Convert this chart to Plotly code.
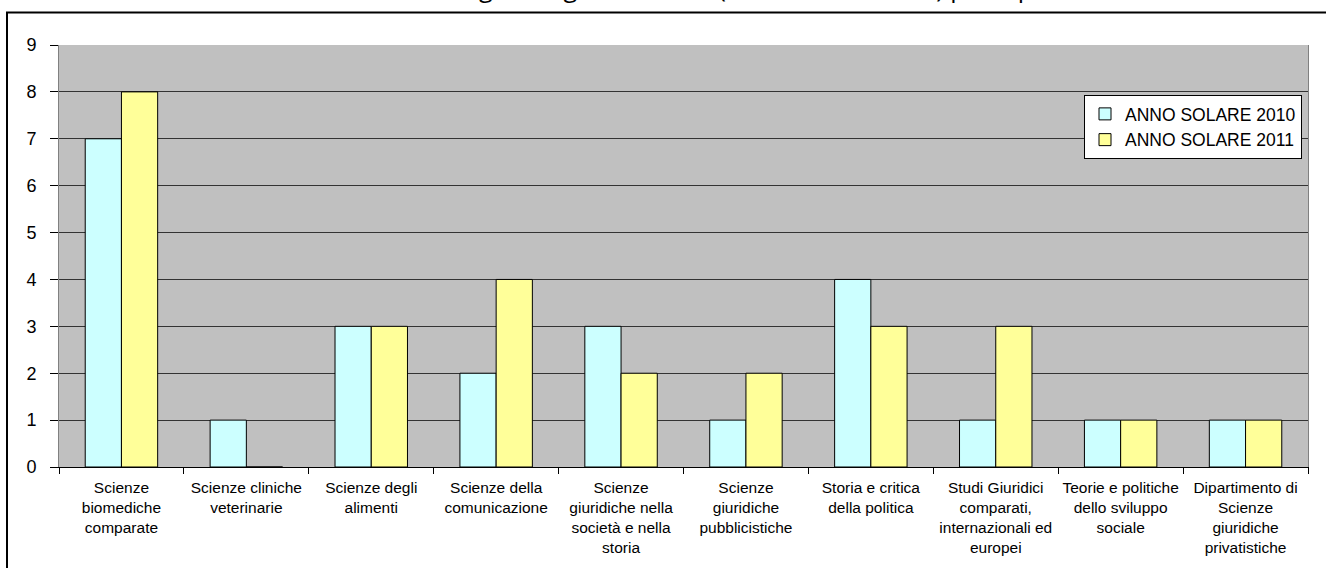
import plotly.graph_objects as go

# Dipartimenti e numero di assegni per anno solare
categorie = [
    "Scienze<br>biomediche<br>comparate",
    "Scienze cliniche<br>veterinarie",
    "Scienze degli<br>alimenti",
    "Scienze della<br>comunicazione",
    "Scienze<br>giuridiche nella<br>società e nella<br>storia",
    "Scienze<br>giuridiche<br>pubblicistiche",
    "Storia e critica<br>della politica",
    "Studi Giuridici<br>comparati,<br>internazionali ed<br>europei",
    "Teorie e politiche<br>dello sviluppo<br>sociale",
    "Dipartimento di<br>Scienze<br>giuridiche<br>privatistiche",
]
anno_2010 = [7, 1, 3, 2, 3, 1, 4, 1, 1, 1]
anno_2011 = [8, 0, 3, 4, 2, 2, 3, 3, 1, 1]
nomi_serie = ["ANNO SOLARE 2010", "ANNO SOLARE 2011"]
y_ticks = list(range(0, 10))

titolo = ("Grafico 14 – Distribuzione del numero degli assegni di ricerca "
          "(attivati e rinnovati) per dipartimento")

W, H = 1326, 568
L, R, T, B = 59, 18, 45, 101
pw, ph = W - L - R, H - T - B


def px_x(p):
    return (p - L) / pw


def px_y(p):
    return (H - B - p) / ph


fig = go.Figure()
fig.add_trace(go.Bar(
    x=categorie, y=anno_2010, name=nomi_serie[0],
    marker=dict(color="#CCFFFF", line=dict(color="#000000", width=1)),
))
fig.add_trace(go.Bar(
    x=categorie, y=anno_2011, name=nomi_serie[1],
    marker=dict(color="#FFFF99", line=dict(color="#000000", width=1)),
))

fig.update_layout(
    width=W, height=H,
    margin=dict(l=L, r=R, t=T, b=B, pad=0),
    paper_bgcolor="#FFFFFF",
    plot_bgcolor="#C0C0C0",
    barmode="group",
    bargap=0.42,
    bargroupgap=0,
    font=dict(family="Liberation Sans, Arial, sans-serif", color="#000000"),
    legend=dict(
        x=px_x(1084), y=px_y(95), xanchor="left", yanchor="top",
        bgcolor="#FFFFFF", bordercolor="#000000", borderwidth=1,
        font=dict(size=17.5, family="Liberation Sans, Arial, sans-serif"),
        itemwidth=30,
    ),
    xaxis=dict(
        type="category",
        tickfont=dict(size=15.5),
        ticks="outside", ticklen=6, tickcolor="#000000",
        tickson="boundaries",
        ticklabelstandoff=6,
        showline=True, linecolor="#000000", linewidth=1,
        showgrid=False,
        tickangle=0,
        automargin=False,
    ),
    yaxis=dict(
        range=[0, 9],
        tickvals=y_ticks,
        tickfont=dict(size=18),
        ticks="outside", ticklen=8, tickcolor="#000000",
        ticklabelstandoff=10,
        showline=True, linecolor="#808080", linewidth=1, mirror=True,
        showgrid=True, gridcolor="#333333", gridwidth=1,
        zeroline=False,
        automargin=False,
    ),
    shapes=[dict(
        type="rect", xref="paper", yref="paper",
        x0=px_x(7), x1=px_x(W + 10), y0=px_y(H + 10), y1=px_y(12.5),
        line=dict(color="#000000", width=2), fillcolor="rgba(0,0,0,0)",
        layer="above",
    )],
    annotations=[dict(
        text=titolo, xref="paper", yref="paper",
        x=px_x(0), y=px_y(6), xanchor="left", yanchor="bottom",
        showarrow=False, font=dict(size=25, family="Open Sans, sans-serif"),
    )],
)

fig.write_html("out.html")
